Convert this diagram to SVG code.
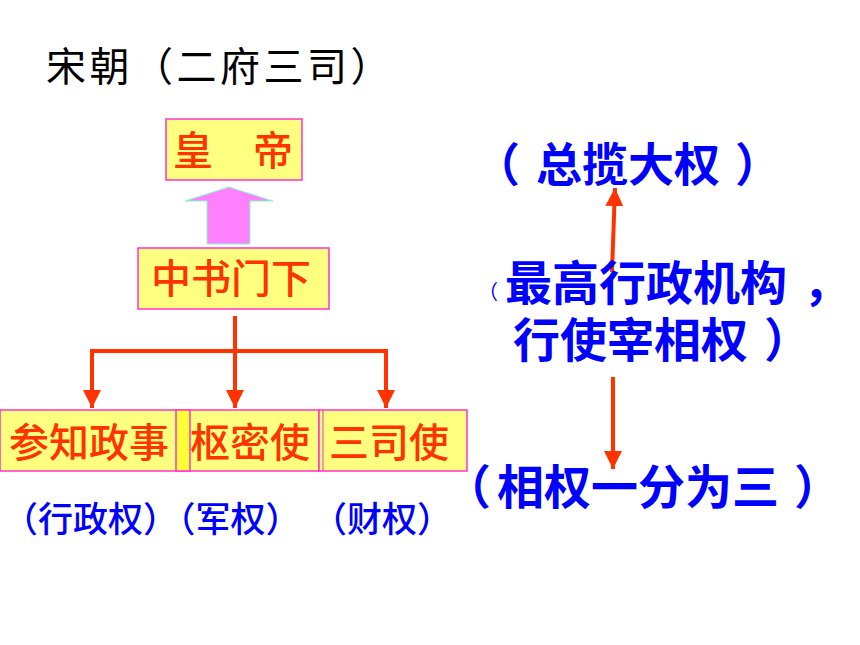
<svg xmlns="http://www.w3.org/2000/svg" width="860" height="645" viewBox="0 0 860 645">
<defs>
<style>
.box{fill:#FFFF80;stroke:#FF33CC;stroke-width:1.5}
.rt{font-family:"Noto Sans CJK SC",sans-serif;font-size:40px;fill:#FF3300;font-weight:500}
.bl{font-family:"Noto Sans CJK SC",sans-serif;fill:#0000FF;font-weight:700}
.lb{font-family:"Noto Sans CJK SC",sans-serif;fill:#0000FF;font-size:35px;font-weight:500}
.ln{fill:none;stroke:#FF3300;stroke-width:4}
</style>
<marker id="ah" viewBox="0 0 10 10" refX="10" refY="5" markerWidth="4.5" markerHeight="4.5" markerUnits="strokeWidth" orient="auto">
<path d="M0,0 L10,5 L0,10 z" fill="#FF3300"/>
</marker>
</defs>
<rect width="860" height="645" fill="#FFFFFF"/>
<text x="46" y="81" font-family="Noto Sans CJK SC,sans-serif" font-size="40" letter-spacing="3.5" fill="#000000">宋朝（二府三司）</text>

<g id="connectors">
<polygon points="229,187 273,201 250,201 250,244 207,244 207,201 185,201" fill="#FF80FF" stroke="#80FFC0" stroke-width="1"/>
<line class="ln" x1="235" y1="316" x2="235" y2="351"/>
<polyline class="ln" points="92,408 92,351 386,351 386,408" marker-end="url(#ah)"/>
<line class="ln" x1="92" y1="353" x2="92" y2="408" marker-end="url(#ah)"/>
<line class="ln" x1="235" y1="349" x2="235" y2="408" marker-end="url(#ah)"/>
<line x1="612" y1="272" x2="615" y2="188" stroke="#FF3300" stroke-width="4" marker-end="url(#ah)"/>
<line x1="613" y1="377" x2="613" y2="469" stroke="#FF3300" stroke-width="4" marker-end="url(#ah)"/>
</g>

<g id="huangdi">
<rect class="box" x="166" y="119" width="136" height="61"/>
<text class="rt" x="173" y="165">皇　帝</text>
</g>
<g id="zhongshumenxia">
<rect class="box" x="138" y="248" width="191" height="61"/>
<text class="rt" x="151" y="293">中书门下</text>
</g>
<g id="canzhizhengshi">
<rect class="box" x="0" y="410" width="190" height="61"/>
<text class="rt" x="9" y="457">参知政事</text>
</g>
<g id="shumishi">
<rect class="box" x="176" y="410" width="143" height="61"/>
<rect x="177" y="411" width="13" height="59" fill="#FFFF33"/>
<line x1="190" y1="410" x2="190" y2="471" stroke="#FF33CC" stroke-width="1.5"/>
<text class="rt" x="190" y="457">枢密使</text>
</g>
<g id="sansishi">
<rect class="box" x="319" y="410" width="148" height="61"/>
<line x1="323" y1="410" x2="323" y2="471" stroke="#FF33CC" stroke-width="1"/>
<text class="rt" x="329" y="457">三司使</text>
</g>

<g id="labels">
<text class="lb" x="3" y="532">（行政权）（军权）</text>
<text class="lb" x="312" y="532">（财权）</text>
</g>

<g id="right">
<text class="bl" font-size="46" x="474" y="181">（</text>
<text class="bl" font-size="46" x="536" y="181">总揽大权</text>
<text class="bl" font-size="46" x="735" y="181">）</text>
<text font-family="Noto Sans CJK SC,sans-serif" fill="#0000FF" font-size="20" x="478" y="299">（</text>
<text class="bl" font-size="47" x="505" y="300">最高行政机构</text>
<text class="bl" font-size="47" x="803" y="300">，</text>
<text class="bl" font-size="47" x="513" y="357">行使宰相权</text>
<text class="bl" font-size="47" x="764" y="357">）</text>
<text class="bl" font-size="47" x="444" y="504">（</text>
<text class="bl" font-size="47" x="497" y="504">相权一分为三</text>
<text class="bl" font-size="47" x="794" y="504">）</text>
</g>
</svg>
